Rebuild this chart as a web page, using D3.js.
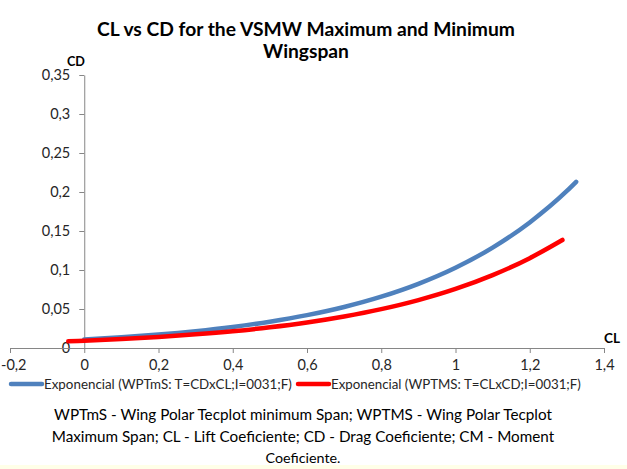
<!DOCTYPE html>
<html><head><meta charset="utf-8">
<script src="https://cdn.jsdelivr.net/npm/d3@7"></script>
<style>body{margin:0;background:#fff}svg{display:block}text{font-family:Lato,"Open Sans",sans-serif}</style>
</head><body><svg id="c" width="627" height="469"></svg>
<script>
const minSpanCL = [0, 0.1, 0.2, 0.3, 0.4, 0.5, 0.6, 0.7, 0.8, 0.9, 1.0, 1.1, 1.2, 1.3, 1.325];
const minSpanCD = [0.0110, 0.0138, 0.0172, 0.0215, 0.0269, 0.0337, 0.0421, 0.0526, 0.0658, 0.0823, 0.1029, 0.1287, 0.1610, 0.2013, 0.213];
const maxSpanCL = [-0.043, 0, 0.1, 0.2, 0.3, 0.4, 0.5, 0.6, 0.7, 0.8, 0.9, 1.0, 1.1, 1.2, 1.288];
const maxSpanCD = [0.0085, 0.0093, 0.0115, 0.0142, 0.0175, 0.0215, 0.0265, 0.0327, 0.0404, 0.0498, 0.0614, 0.0757, 0.0934, 0.1152, 0.1385];
const xTicks = [-0.2, 0, 0.2, 0.4, 0.6, 0.8, 1, 1.2, 1.4];
const yTicks = [0, 0.05, 0.1, 0.15, 0.2, 0.25, 0.3, 0.35];
const seriesNames = ["Exponencial (WPTmS: T=CDxCL;I=0031;F)", "Exponencial (WPTMS: T=CLxCD;I=0031;F)"];
const seriesColors = ["#4F81BD", "#FF0000"];
const titleLines = ["CL vs CD for the VSMW Maximum and Minimum", "Wingspan"];
const captionLines = ["WPTmS - Wing Polar Tecplot minimum Span; WPTMS - Wing Polar Tecplot",
  "Maximum Span;  CL - Lift  Coeficiente; CD - Drag Coeficiente; CM - Moment",
  "Coeficiente."];

const svg = d3.select("#c");
const fmt = d => String(d).replace(".", ",");
const x = d3.scaleLinear().domain([-0.2, 1.4]).range([10, 604]);
const y = d3.scaleLinear().domain([0, 0.35]).range([348, 75]);

function fit(sel, widths){
  sel.each(function(d,i){
    const t = d3.select(this); const fs = +t.attr("font-size");
    const cw = this.getComputedTextLength();
    t.attr("font-size", fs * widths[i] / cw);
  });
}

svg.append("rect").attr("x",0).attr("y",465).attr("width",627).attr("height",4).attr("fill","#FFFFE8");

// title
const tt = svg.append("g").selectAll("text").data(titleLines).join("text")
  .attr("x", 306).attr("y", (d,i)=>36+i*22).attr("text-anchor","middle")
  .attr("font-size",18).attr("font-weight","bold").attr("fill","#000").text(d=>d);
fit(tt, [418, 86]);

// y axis
const yAxis = svg.append("g").attr("transform",`translate(${x(0)},0)`)
  .call(d3.axisLeft(y).tickValues(yTicks).tickFormat(fmt).tickSize(5).tickSizeOuter(0).tickPadding(9));
// x axis
const xAxis = svg.append("g").attr("transform",`translate(0,${y(0)})`)
  .call(d3.axisBottom(x).tickValues(xTicks).tickFormat(fmt).tickSize(5).tickSizeOuter(0).tickPadding(7));
[yAxis,xAxis].forEach(a=>{
  a.attr("font-size",14.5).attr("font-family","Lato,sans-serif");
  a.select(".domain").attr("stroke","#868686");
  a.selectAll(".tick line").attr("stroke","#868686");
  a.selectAll(".tick text").attr("fill","#262626");
});
// keep the leftmost x label inside the picture
xAxis.selectAll(".tick text").filter(d=>d===-0.2).each(function(){
  const b = this.getBBox();
  const tx = x(-0.2);
  if (tx + b.x < 0.5) d3.select(this).attr("x", 0.5 - (tx + b.x));
});

const cd = svg.append("text").attr("x",76).attr("y",66).attr("text-anchor","middle").attr("font-size",12).attr("font-weight","bold").text("CD");
const cl = svg.append("text").attr("x",612).attr("y",343).attr("text-anchor","middle").attr("font-size",12).attr("font-weight","bold").text("CL");
fit(cd,[18]); fit(cl,[16]);

const line = d3.line().x(d=>x(d[0])).y(d=>y(d[1])).curve(d3.curveMonotoneX);
const series = [d3.zip(minSpanCL, minSpanCD), d3.zip(maxSpanCL, maxSpanCD)];
svg.append("g").selectAll("path").data(series).join("path")
  .attr("d", line).attr("fill","none").attr("stroke",(d,i)=>seriesColors[i])
  .attr("stroke-width",4.5).attr("stroke-linecap","round");

// legend
const legX = [10, 297];
const lg = svg.append("g").selectAll("g").data(seriesNames).join("g")
  .attr("transform",(d,i)=>`translate(${legX[i]},384)`);
lg.append("line").attr("x1",1).attr("x2",32).attr("y1",0).attr("y2",0)
  .attr("stroke",(d,i)=>seriesColors[i]).attr("stroke-width",4.5).attr("stroke-linecap","round");
const lt = lg.append("text").attr("x",34).attr("y",4.5).attr("font-size",12).attr("fill","#262626").text(d=>d);
fit(lt, [248, 250]);

// caption
const ct = svg.append("g").selectAll("text").data(captionLines).join("text")
  .attr("x",303).attr("y",(d,i)=>420+i*21.5).attr("text-anchor","middle")
  .attr("font-size",14).attr("fill","#000").text(d=>d);
fit(ct, [498, 503, 75]);
</script></body></html>
